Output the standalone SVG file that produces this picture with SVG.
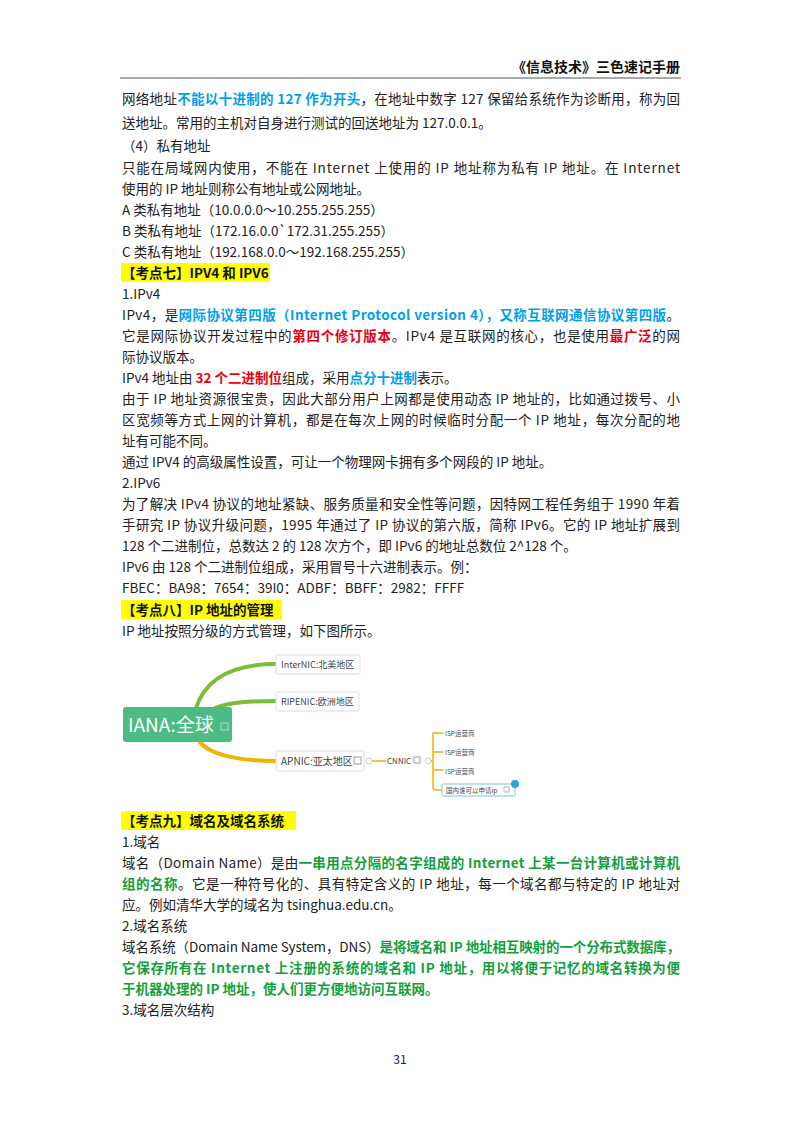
<svg xmlns="http://www.w3.org/2000/svg" width="800" height="1132" viewBox="0 0 800 1132">
<style>
text{font-family:"Noto Sans CJK SC","Noto Sans CJK SC",sans-serif;font-size:13.5px;fill:#222}
.b{fill:#00a0e9;font-weight:bold}.r{fill:#e60012;font-weight:bold}.g{fill:#12a03c;font-weight:bold}
.h{font-weight:bold;fill:#111}
.m{font-family:"Noto Sans CJK SC",sans-serif;font-size:9px;fill:#444}
.box{fill:#fff;stroke:#ddd;stroke-width:1}
</style>
<rect width="800" height="1132" fill="#fff"/>
<text x="680" y="72" text-anchor="end" class="h" style="font-size:14px">《信息技术》三色速记手册</text>
<line x1="120" y1="78" x2="681" y2="78" stroke="#555" stroke-width="1.2"/>
<g id="text">
<text x="122" y="104" textLength="558">网络地址<tspan class="b">不能以十进制的 127 作为开头</tspan>，在地址中数字 127 保留给系统作为诊断用，称为回</text>
<text x="122" y="128">送地址。常用的主机对自身进行测试的回送地址为 127.0.0.1。</text>
<text x="122" y="151">（4）私有地址</text>
<text x="122" y="173" textLength="558">只能在局域网内使用，不能在 Internet 上使用的 IP 地址称为私有 IP 地址。在 Internet</text>
<text x="122" y="194">使用的 IP 地址则称公有地址或公网地址。</text>
<text x="122" y="215">A 类私有地址（10.0.0.0～10.255.255.255）</text>
<text x="122" y="236">B 类私有地址（172.16.0.0`172.31.255.255）</text>
<text x="122" y="257">C 类私有地址（192.168.0.0～192.168.255.255）</text>
<rect x="121" y="263" width="149" height="19" fill="#ffff00"/>
<text x="122" y="278" class="h">【考点七】IPV4 和 IPV6</text>
<text x="122" y="299">1.IPv4</text>
<text x="122" y="320" textLength="558">IPv4，是<tspan class="b">网际协议第四版（Internet Protocol version 4），又称互联网通信协议第四版</tspan>。</text>
<text x="122" y="341" textLength="558">它是网际协议开发过程中的<tspan class="r">第四个修订版本</tspan>。IPv4 是互联网的核心，也是使用<tspan class="r">最广泛</tspan>的网</text>
<text x="122" y="362">际协议版本。</text>
<text x="122" y="383">IPv4 地址由 <tspan class="r">32 个二进制位</tspan>组成，采用<tspan class="b">点分十进制</tspan>表示。</text>
<text x="122" y="404" textLength="558">由于 IP 地址资源很宝贵，因此大部分用户上网都是使用动态 IP 地址的，比如通过拨号、小</text>
<text x="122" y="425" textLength="558">区宽频等方式上网的计算机，都是在每次上网的时候临时分配一个 IP 地址，每次分配的地</text>
<text x="122" y="446">址有可能不同。</text>
<text x="122" y="467">通过 IPV4 的高级属性设置，可让一个物理网卡拥有多个网段的 IP 地址。</text>
<text x="122" y="488">2.IPv6</text>
<text x="122" y="509" textLength="558">为了解决 IPv4 协议的地址紧缺、服务质量和安全性等问题，因特网工程任务组于 1990 年着</text>
<text x="122" y="530" textLength="558">手研究 IP 协议升级问题，1995 年通过了 IP 协议的第六版，简称 IPv6。它的 IP 地址扩展到</text>
<text x="122" y="551">128 个二进制位，总数达 2 的 128 次方个，即 IPv6 的地址总数位 2^128 个。</text>
<text x="122" y="572">IPv6 由 128 个二进制位组成，采用冒号十六进制表示。例：</text>
<text x="122" y="593">FBEC：BA98：7654：39I0：ADBF：BBFF：2982：FFFF</text>
<rect x="121" y="600" width="161" height="19" fill="#ffff00"/>
<text x="122" y="615" class="h">【考点八】IP 地址的管理</text>
<text x="122" y="636">IP 地址按照分级的方式管理，如下图所示。</text>
<rect x="121" y="811" width="175" height="19" fill="#ffff00"/>
<text x="122" y="826" class="h">【考点九】域名及域名系统</text>
<text x="122" y="847">1.域名</text>
<text x="122" y="868" textLength="558">域名（Domain Name）是由<tspan class="g">一串用点分隔的名字组成的 Internet 上某一台计算机或计算机</tspan></text>
<text x="122" y="889" textLength="558"><tspan class="g">组的名称</tspan>。它是一种符号化的、具有特定含义的 IP 地址，每一个域名都与特定的 IP 地址对</text>
<text x="122" y="910">应。例如清华大学的域名为 tsinghua.edu.cn。</text>
<text x="122" y="931">2.域名系统</text>
<text x="122" y="952" textLength="558">域名系统（Domain Name System，DNS）<tspan class="g">是将域名和 IP 地址相互映射的一个分布式数据库，</tspan></text>
<text x="122" y="973" textLength="558" class="g">它保存所有在 Internet 上注册的系统的域名和 IP 地址，用以将便于记忆的域名转换为便</text>
<text x="122" y="994" class="g">于机器处理的 IP 地址，使人们更方便地访问互联网。</text>
<text x="122" y="1015">3.域名层次结构</text>
<text x="400" y="1064" text-anchor="middle" style="font-size:12px">31</text>
</g>
<g id="connectors" fill="none" stroke-linecap="round">
<path d="M196 708 C205 680 230 664 276 664" stroke="#7cbd3a" stroke-width="4"/>
<path d="M215 708 C230 702 250 701 276 701" stroke="#7cbd3a" stroke-width="4"/>
<path d="M200 742 C210 755 240 761 276 761" stroke="#f0b400" stroke-width="4"/>
<path d="M369 761 L386 761" stroke="#f0b400" stroke-width="1.5"/>
<path d="M428 761 L433 761 M433 733 L433 788 Q433 790 436 790 L442 790 M433 733 L443 733 M433 752 L443 752 M433 770 L443 770" stroke="#f0b400" stroke-width="1.5"/>
</g>
<g id="iana"><rect x="123" y="707" width="109" height="35" rx="3" fill="#4cbb84"/><text x="128" y="732" style="font-size:19px;fill:#fff;font-family:'Noto Sans CJK SC',sans-serif">IANA:全球</text><rect x="221" y="723" width="7" height="7" fill="none" stroke="#cde" stroke-width="0.8"/></g>
<g id="internic"><rect class="box" x="276" y="655" width="84" height="19" rx="2"/><text class="m" x="281" y="668">InterNIC:北美地区</text></g>
<g id="ripenic"><rect class="box" x="276" y="692" width="83" height="19" rx="2"/><text class="m" x="281" y="705">RIPENIC:欧洲地区</text></g>
<g id="apnic"><rect class="box" x="276" y="751" width="88" height="20" rx="2"/><text class="m" x="281" y="765" style="font-size:10px">APNIC:亚太地区</text><rect x="354" y="757" width="7" height="7" fill="none" stroke="#888" stroke-width="0.8"/><circle cx="369" cy="761" r="3" fill="#fff" stroke="#bbb" stroke-width="0.7"/></g>
<g id="cnnic"><text class="m" x="387" y="764" style="font-size:8px">CNNIC</text><rect x="414" y="757" width="6" height="6" fill="none" stroke="#888" stroke-width="0.8"/><circle cx="428" cy="761" r="3" fill="#fff" stroke="#bbb" stroke-width="0.7"/></g>
<g id="isp1"><text class="m" x="445" y="736" style="font-size:6.5px">ISP运营商</text></g>
<g id="isp2"><text class="m" x="445" y="755" style="font-size:6.5px">ISP运营商</text></g>
<g id="isp3"><text class="m" x="445" y="774" style="font-size:6.5px">ISP运营商</text></g>
<g id="domestic"><rect x="442" y="784" width="73" height="12" rx="1.5" fill="#fff" stroke="#5ab4d6" stroke-width="0.8"/><text class="m" x="446" y="793" style="font-size:6.5px">国内谁可以申请ip</text><rect x="504" y="787" width="5" height="5" fill="none" stroke="#888" stroke-width="0.6"/><circle cx="515" cy="784" r="4" fill="#2aa6de"/></g>
</svg>
